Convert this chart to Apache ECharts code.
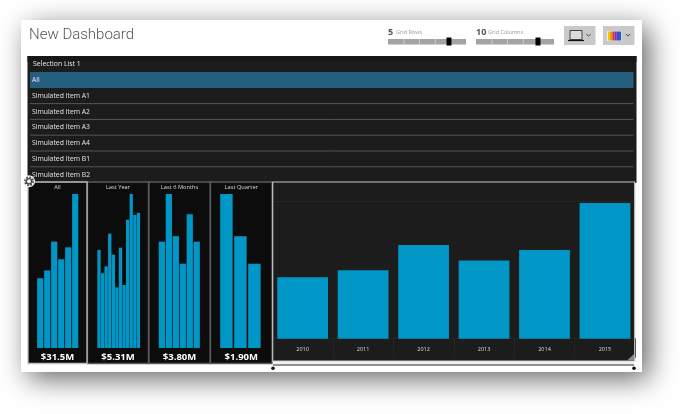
<!DOCTYPE html>
<html>
<head>
<meta charset="utf-8">
<title>New Dashboard</title>
<script src="https://cdn.jsdelivr.net/npm/echarts@6/dist/echarts.min.js"></script>
<style>
html,body{margin:0;padding:0;background:#fff;}
#chart{width:684px;height:414px;}
</style>
</head>
<body>
<div id="chart"></div>
<script>
// values in $M
const years = ['2010', '2011', '2012', '2013', '2014', '2015'];
const allValues = [3.68, 4.09, 5.61, 4.68, 5.31, 8.12];
const lastYearMonths = ['Jan', 'Feb', 'Mar', 'Apr', 'May', 'Jun', 'Jul', 'Aug', 'Sep', 'Oct', 'Nov', 'Dec'];
const lastYearValues = [0.42, 0.32, 0.35, 0.49, 0.40, 0.26, 0.43, 0.27, 0.55, 0.66, 0.57, 0.58];
const last6Months = ['Jul', 'Aug', 'Sep', 'Oct', 'Nov', 'Dec'];
const last6Values = [0.58, 0.84, 0.61, 0.46, 0.73, 0.58];
const lastQuarterMonths = ['Oct', 'Nov', 'Dec'];
const lastQuarterValues = [0.84, 0.61, 0.46];

const panelTitles = ['All', 'Last Year', 'Last 6 Months', 'Last Quarter'];
const panelTotals = ['$31.5M', '$5.31M', '$3.80M', '$1.90M'];
const listTitle = 'Selection List 1';
const listItems = ['All', 'Simulated Item A1', 'Simulated Item A2', 'Simulated Item A3', 'Simulated Item A4', 'Simulated Item B1', 'Simulated Item B2'];

const BAR = '#0096c6';
const FONT = '"Open Sans", sans-serif';

function bars(index, cats, vals, left, width, top, height, gap, max) {
    return {
        grid: {left: left, top: top, width: width, height: height},
        xAxis: {
            type: 'category', gridIndex: index, data: cats, z: 5,
            axisLine: {show: false}, axisTick: {show: false}, axisLabel: {show: false}
        },
        yAxis: {
            type: 'value', gridIndex: index, min: 0, max: max, z: 5,
            axisLine: {show: false}, axisTick: {show: false}, axisLabel: {show: false}, splitLine: {show: false}
        },
        series: {
            type: 'bar', xAxisIndex: index, yAxisIndex: index, data: vals, barCategoryGap: gap,
            itemStyle: {color: BAR}, silent: true, z: 6
        }
    };
}

const charts = [
    bars(0, years, allValues, 36.7, 42, 194, 154, '12%', 8.12),
    bars(1, lastYearMonths, lastYearValues, 97.2, 43, 194, 154, '8%', 0.66),
    bars(2, last6Months, last6Values, 158.4, 41.8, 194, 154, '10%', 0.84),
    bars(3, lastQuarterMonths, lastQuarterValues, 219.4, 42, 194, 154, '11%', 0.84),
    bars(4, years, allValues, 272.4, 362.8, 201.7, 137, '16%', 8.2)
];

// the big chart has a faint gridline at the top and labelled cells under the bars
const big = charts[4];
big.yAxis.interval = 8.2;
big.yAxis.splitLine = {show: true, lineStyle: {color: '#262626', width: 1}};
big.xAxis.axisLabel = {show: true, color: '#dcdcdc', fontSize: 5.5, fontFamily: FONT, margin: 8, interval: 0};
big.xAxis.axisTick = {show: true, length: 19, lineStyle: {color: '#252525'}};
big.xAxis.axisLine = {show: true, lineStyle: {color: '#252525'}};

function txt(x, y, text, size, color, extra) {
    return {
        type: 'text', x: x, y: y, z: 10, silent: true,
        style: Object.assign({text: text, fontSize: size, fill: color, fontFamily: FONT, verticalAlign: 'middle'}, extra || {})
    };
}
function box(x, y, w, h, fill, extra) {
    return {
        type: 'rect', shape: {x: x, y: y, width: w, height: h}, silent: true, z: (extra && extra.z) || 1,
        style: Object.assign({fill: fill}, (extra && extra.style) || {})
    };
}

const gfx = [];

// page card
gfx.push(box(21, 20, 621, 352, '#fff', {style: {shadowBlur: 26, shadowColor: 'rgba(0,0,0,0.6)', shadowOffsetX: 7, shadowOffsetY: 7}}));
gfx.push(txt(29, 35.5, 'New Dashboard', 15, '#555', {fontWeight: 300, fontFamily: 'Roboto, sans-serif'}));

// grid size sliders
function slider(x, y, big, small, thumbX) {
    gfx.push(txt(x, y - 8, big, 9, '#555', {fontWeight: 'bold'}));
    gfx.push(txt(x + (big.length > 1 ? 12 : 8), y - 7.5, small, 5.5, '#999'));
    gfx.push(box(x, y - 1, 78, 5.5, '#a3a3a3'));
    for (let i = 1; i < 5; i++) {
        gfx.push(box(x + i * 15.6, y - 1, 0.8, 5.5, '#d8d8d8', {z: 2}));
    }
    gfx.push(box(thumbX - 2.5, y - 2.5, 5, 8, '#000', {z: 3}));
}
slider(388, 40, '5', 'Grid Rows', 449);
slider(476, 40, '10', 'Grid Columns', 538);

// toolbar buttons
gfx.push(box(564, 26, 31.5, 19, '#c9c9c9'));
gfx.push(box(603, 26, 31.5, 19, '#c9c9c9'));
gfx.push({type: 'rect', shape: {x: 570, y: 30.5, width: 12, height: 9}, z: 3, silent: true, style: {fill: '#dcdcdc', stroke: '#222', lineWidth: 0.8}});
gfx.push({type: 'line', shape: {x1: 568, y1: 40.5, x2: 584, y2: 40.5}, z: 3, silent: true, style: {stroke: '#111', lineWidth: 1.2}});
gfx.push(box(607, 31, 15, 10, '#eee', {z: 2}));
['#e6c800', '#e88a1a', '#d8342a', '#8a2fb0', '#3a4fc0', '#2a5ac0'].forEach(function (c, i) {
    gfx.push(box(608 + i * 2.2, 31.5, 2.2, 9, c, {z: 3}));
});
[588.5, 628].forEach(function (x) {
    gfx.push({type: 'polyline', shape: {points: [[x - 2.2, 34], [x, 36.2], [x + 2.2, 34]]}, z: 3, silent: true, style: {stroke: '#444', lineWidth: 1, fill: null}});
});

// selection list
gfx.push(box(27.5, 56, 609, 127, '#1c1c1c'));
gfx.push(box(27.5, 56, 609, 6, '#171717', {z: 2}));
gfx.push(txt(33, 64.5, listTitle, 6.9, '#e8e8e8'));
gfx.push(box(30, 72, 603.5, 16, '#245f80', {z: 2}));
listItems.forEach(function (item, i) {
    const y = 80 + i * 15.8;
    gfx.push(txt(32, y, item, 6.8, '#e4e4e4'));
    if (i > 0 && i < 6) {
        gfx.push({type: 'line', shape: {x1: 30, y1: y + 7.8, x2: 633.5, y2: y + 7.8}, z: 2, silent: true, style: {stroke: '#555', lineWidth: 1}});
    }
});

// chart panels
const panelX = [28, 87.5, 149, 210.5];
const panelW = [59, 61, 61, 61.5];
// selected panel goes last so its light border stays on top
[3, 2, 1, 0].forEach(function (i) {
    const selected = i === 0;
    gfx.push(box(panelX[i], 182, panelW[i], 181.5, '#0c0c0c', {z: 3, style: {stroke: selected ? '#c0c0c0' : '#5a5a5a', lineWidth: 1.3}}));
    const cx = panelX[i] + panelW[i] / 2;
    gfx.push(txt(cx, 187.3, panelTitles[i], 5.7, '#dcdcdc', {align: 'center'}));
    gfx.push(txt(cx, 357, panelTotals[i], 9.5, '#fff', {align: 'center', fontWeight: 'bold'}));
});
gfx.push(box(272.7, 182, 362, 179, '#1c1c1c', {z: 3}));
// border sits above the axis ticks that touch the panel edge
gfx.push(box(272.7, 182, 362, 179, 'none', {z: 7, style: {stroke: '#c4c4c4', lineWidth: 1.2}}));
gfx.push({type: 'line', shape: {x1: 273, y1: 363, x2: 634, y2: 363}, z: 3, silent: true, style: {stroke: '#e2e2e2', lineWidth: 1}});
gfx.push({type: 'line', shape: {x1: 273, y1: 365, x2: 634, y2: 365}, z: 3, silent: true, style: {stroke: '#222', lineWidth: 1}});
[273, 634].forEach(function (x) {
    gfx.push({type: 'circle', shape: {cx: x, cy: 368.3, r: 1.8}, z: 4, silent: true, style: {fill: '#111'}});
});
gfx.push({type: 'polygon', shape: {points: [[634, 354], [634, 360.5], [627, 360.5]]}, z: 8, silent: true, style: {fill: '#8a8a8a'}});

// settings gear
gfx.push({type: 'circle', shape: {cx: 29, cy: 181.3, r: 6}, z: 8, silent: true, style: {fill: '#f2f2f2'}});
gfx.push({type: 'circle', shape: {cx: 29, cy: 181.3, r: 4.1}, z: 9, silent: true, style: {fill: null, stroke: '#444', lineWidth: 1.6, lineDash: [1.6, 1.6]}});
gfx.push({type: 'circle', shape: {cx: 29, cy: 181.3, r: 2.7}, z: 9, silent: true, style: {fill: '#f2f2f2', stroke: '#444', lineWidth: 1.4}});

const chart = echarts.init(document.getElementById('chart'));
chart.setOption({
    animation: false,
    backgroundColor: '#fff',
    grid: charts.map(function (c) { return c.grid; }),
    xAxis: charts.map(function (c) { return c.xAxis; }),
    yAxis: charts.map(function (c) { return c.yAxis; }),
    series: charts.map(function (c) { return c.series; }),
    graphic: gfx
});
</script>
</body>
</html>
